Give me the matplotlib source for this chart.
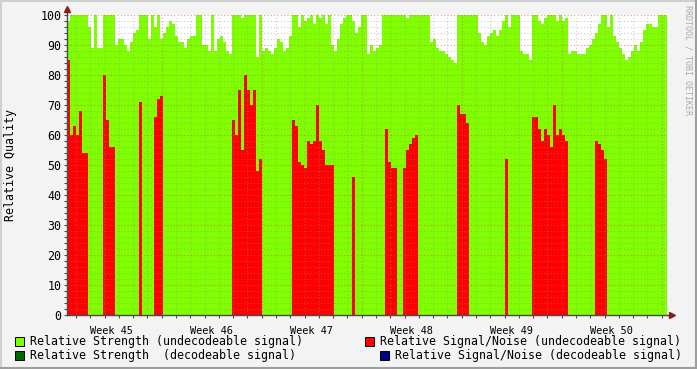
"""RRDtool-style weekly quality graph: relative strength vs. relative signal/noise."""

import matplotlib

matplotlib.use("Agg")

import matplotlib.pyplot as plt
import numpy as np
from matplotlib.lines import Line2D
from matplotlib.patches import Rectangle
from matplotlib.transforms import blended_transform_factory


# Samples are equally spaced over the six weeks shown (200 samples).
strength_undecodeable = [
    98, 100, 100, 100, 100, 100, 100, 96, 89, 100,
    89, 89, 100, 100, 100, 100, 90, 92, 92, 90,
    88, 91, 94, 95, 100, 100, 100, 92, 100, 96,
    100, 92, 94, 96, 98, 97, 93, 91, 91, 89,
    92, 93, 93, 100, 100, 90, 90, 88, 100, 88,
    92, 93, 91, 88, 87, 100, 100, 100, 99, 100,
    100, 100, 100, 86, 100, 88, 89, 88, 87, 89,
    92, 91, 88, 89, 93, 100, 100, 96, 100, 98,
    99, 100, 97, 100, 99, 100, 97, 100, 90, 88,
    92, 97, 99, 100, 100, 98, 94, 96, 100, 100,
    87, 90, 88, 89, 90, 100, 100, 100, 100, 100,
    100, 100, 100, 99, 100, 100, 100, 100, 100, 100,
    100, 91, 92, 89, 88, 88, 87, 86, 85, 84,
    100, 100, 100, 100, 100, 100, 100, 94, 91, 90,
    93, 94, 95, 93, 95, 98, 100, 96, 100, 100,
    100, 88, 87, 87, 85, 100, 100, 98, 97, 99,
    100, 100, 100, 98, 100, 98, 99, 87, 88, 88,
    87, 87, 87, 89, 90, 92, 94, 97, 100, 100,
    96, 100, 93, 91, 89, 87, 85, 86, 88, 90,
    88, 91, 95, 97, 97, 96, 96, 100, 100, 100,
]

snr_undecodeable = [
    85, 60, 63, 60, 68, 54, 54, 0, 0, 0,
    0, 0, 80, 65, 56, 56, 0, 0, 0, 0,
    0, 0, 0, 0, 71, 0, 0, 0, 0, 66,
    72, 73, 0, 0, 0, 0, 0, 0, 0, 0,
    0, 0, 0, 0, 0, 0, 0, 0, 0, 0,
    0, 0, 0, 0, 0, 65, 60, 75, 55, 80,
    75, 70, 75, 48, 52, 0, 0, 0, 0, 0,
    0, 0, 0, 0, 0, 65, 63, 51, 50, 49,
    58, 57, 58, 70, 58, 55, 50, 50, 50, 0,
    0, 0, 0, 0, 0, 46, 0, 0, 0, 0,
    0, 0, 0, 0, 0, 0, 62, 51, 49, 49,
    0, 0, 49, 55, 57, 59, 60, 0, 0, 0,
    0, 0, 0, 0, 0, 0, 0, 0, 0, 0,
    70, 67, 67, 64, 0, 0, 0, 0, 0, 0,
    0, 0, 0, 0, 0, 0, 52, 0, 0, 0,
    0, 0, 0, 0, 0, 66, 66, 62, 58, 62,
    60, 56, 70, 60, 62, 60, 58, 0, 0, 0,
    0, 0, 0, 0, 0, 0, 58, 57, 55, 52,
    0, 0, 0, 0, 0, 0, 0, 0, 0, 0,
    0, 0, 0, 0, 0, 0, 0, 0, 0, 0,
]

week_labels = ["Week 45", "Week 46", "Week 47", "Week 48", "Week 49", "Week 50"]

legend_labels = [
    "Relative Strength (undecodeable signal)",
    "Relative Strength  (decodeable signal)",
    "Relative Signal/Noise (undecodeable signal)",
    "Relative Signal/Noise (decodeable signal)",
]

# RRDtool-ish colours
BACK = "#F3F3F3"
SHADE_A = "#CFCFCF"
SHADE_B = "#9E9E9E"
GREEN = "#7FFF00"
DARK_GREEN = "#006600"
RED = "#FF0000"
BLUE = "#000088"
AXIS = "#4A4A4A"
ARROW = "#8B1A1A"
MONO = "DejaVu Sans Mono"

W, H = 697, 369
fig = plt.figure(figsize=(W / 100, H / 100), dpi=100)
fig.patch.set_facecolor(BACK)

# plot area in pixels: x 67..667, y 15..315
ax = fig.add_axes([67 / W, (H - 315) / H, 600 / W, 300 / H])
ax.set_facecolor("white")

# x axis in days; week boundaries at multiples of 7
x_start = -94.7 / (100 / 7)
x_end = x_start + 42
n = len(strength_undecodeable)
edges = np.linspace(x_start, x_end, n + 1)

green = np.append(strength_undecodeable, strength_undecodeable[-1])
red = np.append(snr_undecodeable, snr_undecodeable[-1])
ax.fill_between(edges, green, step="post", color=GREEN, lw=0, zorder=1)
ax.fill_between(edges, red, step="post", color=RED, lw=0, zorder=1.2)

ax.set_xlim(x_start, x_end)
ax.set_ylim(0, 100)

ax.set_yticks(np.arange(0, 101, 10))
ax.set_yticks(np.arange(0, 101, 2), minor=True)
ax.set_xticks(np.arange(0, 36, 7))
ax.set_xticks(np.arange(-6, 36, 1), minor=True)
ax.set_xticklabels([])

ax.set_axisbelow(False)
ax.grid(which="minor", color="#8F8F8F", alpha=0.45, lw=0.8, ls=(0, (1, 2)))
ax.grid(which="major", color="#DE5050", alpha=0.6, lw=0.8, ls=(0, (1, 2)))

ax.tick_params(which="both", direction="out", length=2, width=0.8, color=AXIS,
               labelsize=8.4, pad=2)
for lbl in ax.get_yticklabels():
    lbl.set_family(MONO)

for side in ("top", "right"):
    ax.spines[side].set_visible(False)
for side in ("left", "bottom"):
    ax.spines[side].set_color(AXIS)
    ax.spines[side].set_linewidth(1)

# axis arrows
ax.plot([0, 0], [1, 1.02], color=AXIS, lw=1, transform=ax.transAxes, clip_on=False)
ax.plot(0, 1.02, marker="^", ms=4.5, color=ARROW, mec=ARROW,
        transform=ax.transAxes, clip_on=False)
ax.plot([1, 1.007], [0, 0], color=AXIS, lw=1, transform=ax.transAxes, clip_on=False)
ax.plot(1.008, 0, marker=">", ms=4.5, color=ARROW, mec=ARROW,
        transform=ax.transAxes, clip_on=False)

# week labels centred between week boundaries
trans = blended_transform_factory(ax.transData, ax.transAxes)
for k, label in enumerate(week_labels):
    ax.text(-3.5 + 7 * k, -0.035, label, transform=trans, ha="center", va="top",
            fontsize=7.4, family=MONO)

fig.text(11 / W, 1 - 165 / H, "Relative Quality", rotation=90,
         ha="center", va="center", fontsize=8.4, family=MONO)

fig.text(688 / W, 1 - 5 / H, "RRDTOOL / TOBI OETIKER", rotation=270,
         ha="center", va="top", fontsize=6, family=MONO, color="#AAAAAA")

# legend
legend_items = [
    (15, 341, GREEN, legend_labels[0]),
    (15, 355, DARK_GREEN, legend_labels[1]),
    (365, 341, RED, legend_labels[2]),
    (380, 355, BLUE, legend_labels[3]),
]
for px, py, color, text in legend_items:
    fig.add_artist(Rectangle((px / W, 1 - (py + 4.5) / H), 8.5 / W, 8.5 / H,
                             transform=fig.transFigure, facecolor=color,
                             edgecolor="black", lw=0.7))
    fig.text((px + 15) / W, 1 - py / H, text, ha="left", va="center",
             fontsize=8.35, family=MONO)

# 3D frame
fig.add_artist(Line2D([0, 1], [1 - 1 / H, 1 - 1 / H], color=SHADE_A, lw=1.5,
                      transform=fig.transFigure))
fig.add_artist(Line2D([1 / W, 1 / W], [0, 1], color=SHADE_A, lw=1.5,
                      transform=fig.transFigure))
fig.add_artist(Line2D([0, 1], [1.5 / H, 1.5 / H], color=SHADE_B, lw=1.5,
                      transform=fig.transFigure))
fig.add_artist(Line2D([1 - 1.5 / W, 1 - 1.5 / W], [0, 1], color=SHADE_B, lw=1.5,
                      transform=fig.transFigure))

fig.savefig("out.png", dpi=100, facecolor=fig.get_facecolor())
